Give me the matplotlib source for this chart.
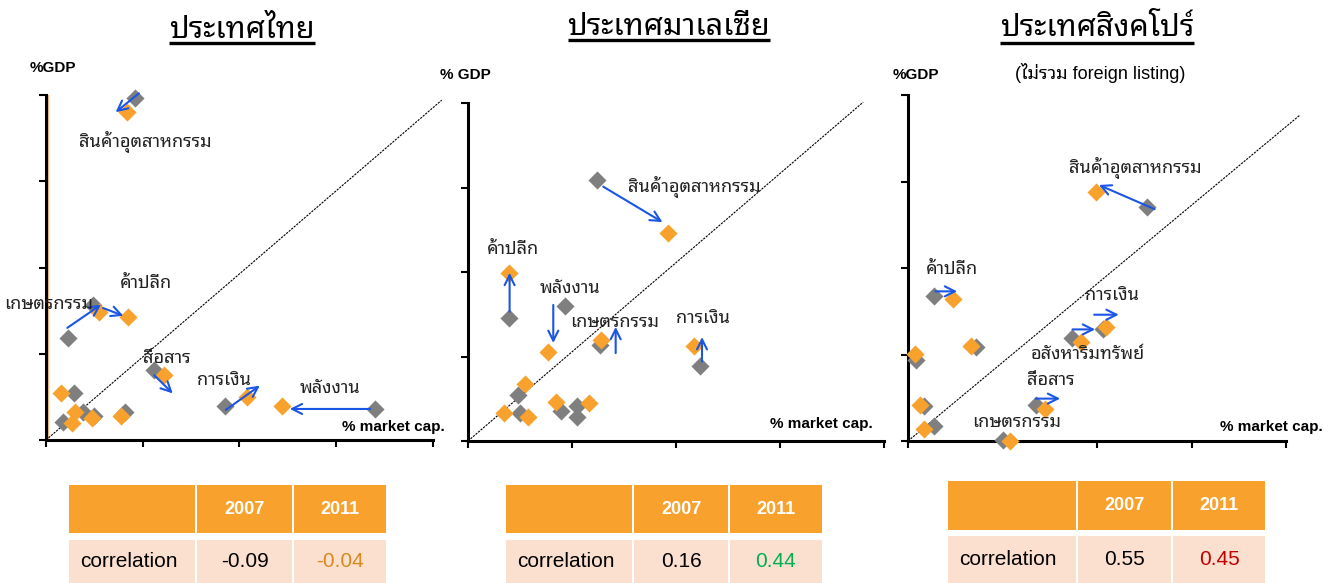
import matplotlib
matplotlib.use("Agg")
import matplotlib.pyplot as plt
from matplotlib.patches import Rectangle

plt.rcParams['font.family'] = ['Noto Sans Thai Looped', 'Noto Sans Thai', 'Sarabun', 'DejaVu Sans']
LATIN = ['Liberation Sans', 'Noto Sans Thai Looped', 'Noto Sans Thai', 'DejaVu Sans']
NARROW = ['Liberation Sans Narrow', 'Liberation Sans']

W, H = 1337, 583
ORANGE = '#F8A12C'
GRAY = '#7F7F7F'
BLUE = '#1A55E6'

# ---- ไทย ----
th_title = 'ประเทศไทย'
th_x07 = [0.92, 0.49, 0.23, 1.12, 0.29, 1.85, 3.40, 0.18, 0.38, 0.50, 0.82]
th_y07 = [3.96, 1.57, 1.18, 0.81, 0.54, 0.39, 0.36, 0.21, 0.32, 0.28, 0.32]
th_x11 = [0.84, 0.55, 0.85, 1.22, 0.16, 2.08, 2.44, 0.27, 0.30, 0.48, 0.78]
th_y11 = [3.80, 1.48, 1.43, 0.75, 0.54, 0.50, 0.40, 0.20, 0.32, 0.25, 0.28]
th_arrows = [(0.96, 4.02, 0.72, 3.80), (0.22, 1.30, 0.57, 1.57), (0.59, 1.53, 0.80, 1.44),
             (1.12, 0.75, 1.31, 0.54), (1.86, 0.35, 2.21, 0.63), (3.35, 0.36, 2.52, 0.36)]
th_labels = ['สินค้าอุตสาหกรรม', 'ค้าปลีก', 'เกษตรกรรม', 'สื่อสาร', 'การเงิน', 'พลังงาน']
th_lx = [1.03, 1.03, 0.03, 1.25, 1.84, 2.94]
th_ly = [3.46, 1.82, 1.58, 0.95, 0.69, 0.60]

# ---- มาเลเซีย ----
my_title = 'ประเทศมาเลเซีย'
my_x07 = [1.24, 0.39, 0.93, 1.27, 2.23, 0.48, 0.50, 0.89, 1.05, 1.05]
my_y07 = [3.09, 1.46, 1.60, 1.14, 0.89, 0.54, 0.33, 0.35, 0.41, 0.28]
my_x11 = [1.92, 0.39, 0.77, 1.28, 2.17, 0.55, 0.35, 0.58, 0.85, 1.16]
my_y11 = [2.46, 1.99, 1.05, 1.20, 1.13, 0.67, 0.33, 0.28, 0.46, 0.45]
my_arrows = [(1.30, 3.01, 1.87, 2.59), (0.40, 1.53, 0.40, 1.99), (0.82, 1.61, 0.82, 1.16),
             (1.42, 1.04, 1.42, 1.35), (2.25, 0.94, 2.25, 1.23)]
my_labels = ['สินค้าอุตสาหกรรม', 'ค้าปลีก', 'พลังงาน', 'เกษตรกรรม', 'การเงิน']
my_lx = [2.18, 0.43, 0.98, 1.41, 2.26]
my_ly = [3.01, 2.27, 1.81, 1.41, 1.45]

# ---- สิงคโปร์ ----
sg_title = 'ประเทศสิงคโปร์'
sg_x07 = [2.53, 0.27, 0.72, 0.08, 1.74, 2.06, 1.35, 0.17, 0.28, 1.00]
sg_y07 = [2.71, 1.68, 1.09, 0.94, 1.19, 1.30, 0.42, 0.40, 0.17, 0.01]
sg_x11 = [1.99, 0.48, 0.67, 0.07, 1.83, 2.10, 1.45, 0.13, 0.17, 1.08]
sg_y11 = [2.88, 1.64, 1.10, 1.01, 1.15, 1.32, 0.37, 0.42, 0.14, 0.00]
sg_arrows = [(2.61, 2.68, 2.02, 2.96), (0.29, 1.73, 0.52, 1.73), (1.74, 1.29, 1.98, 1.29),
             (1.97, 1.46, 2.23, 1.46), (1.35, 0.49, 1.61, 0.49)]
sg_labels = ['สินค้าอุตสาหกรรม', 'ค้าปลีก', 'การเงิน', 'อสังหาริมทรัพย์', 'สื่อสาร', 'เกษตรกรรม']
sg_lx = [2.41, 0.47, 2.16, 1.90, 1.51, 1.15]
sg_ly = [3.16, 1.99, 1.69, 1.01, 0.70, 0.22]

# correlation table
years = ['2007', '2011']
corr07 = [-0.09, 0.16, 0.55]
corr11 = [-0.04, 0.44, 0.45]
corr11_colors = ['#D98A1E', '#00B050', '#C00000']

fig = plt.figure(figsize=(W / 100, H / 100), dpi=100)

# overlay in pixel units for titles, captions and tables
over = fig.add_axes([0, 0, 1, 1], zorder=0)
over.set_xlim(0, W)
over.set_ylim(H, 0)
over.axis('off')


def add_panel(box, x07, y07, x11, y11, arrows, labels, lx, ly, diag_end):
    left, top, right, bottom = box
    ax = fig.add_axes([left / W, 1 - bottom / H, (right - left) / W, (bottom - top) / H], zorder=2)
    ax.patch.set_alpha(0)
    ax.set_xlim(0, 4)
    ax.set_ylim(0, 4)
    ax.set_xticks([0, 1, 2, 3, 4])
    ax.set_yticks([0, 1, 2, 3, 4])
    ax.set_xticklabels([])
    ax.set_yticklabels([])
    ax.tick_params(direction='out', length=5, width=1.5, color='black')
    for s in ['top', 'right']:
        ax.spines[s].set_visible(False)
    for s in ['left', 'bottom']:
        ax.spines[s].set_linewidth(2.2)
    ax.plot([0, diag_end[0]], [0, diag_end[1]], color='black', lw=0.8,
            linestyle=(0, (2, 1)), clip_on=False, zorder=1)
    ax.scatter(x07, y07, marker='D', s=85, color=GRAY, linewidths=0, zorder=3, clip_on=False)
    ax.scatter(x11, y11, marker='D', s=85, color=ORANGE, linewidths=0, zorder=4, clip_on=False)
    for x0, y0, x1, y1 in arrows:
        ax.annotate('', xy=(x1, y1), xytext=(x0, y0),
                    arrowprops=dict(arrowstyle='->', color=BLUE, lw=1.5,
                                    mutation_scale=18, shrinkA=0, shrinkB=0), zorder=5)
    for t, x, y in zip(labels, lx, ly):
        ax.text(x, y, t, ha='center', va='center', fontsize=13, color='#222222', zorder=6)
    return ax


ax1 = add_panel((46, 95, 433, 440), th_x07, th_y07, th_x11, th_y11,
                th_arrows, th_labels, th_lx, th_ly, (4.09, 3.94))
ax1.axvline(0.025, color='#F9B57E', lw=1.6, zorder=0)
add_panel((468, 103, 884, 441), my_x07, my_y07, my_x11, my_y11,
          my_arrows, my_labels, my_lx, my_ly, (3.80, 4.01))
add_panel((908, 95, 1286, 441), sg_x07, sg_y07, sg_x11, sg_y11,
          sg_arrows, sg_labels, sg_lx, sg_ly, (4.15, 3.77))

# titles with underline
fig.canvas.draw()
renderer = fig.canvas.get_renderer()
for title, cx, base, uy in [(th_title, 242, 38, 43), (my_title, 669, 35, 40), (sg_title, 1097, 36, 43)]:
    t = over.text(cx, base, title, ha='center', va='baseline', fontsize=22, fontweight='bold')
    bb = t.get_window_extent(renderer).transformed(over.transData.inverted())
    over.plot([bb.x0, bb.x1], [uy, uy], color='black', lw=2.4, solid_capstyle='butt')

over.text(1100, 73, '(ไม่รวม foreign listing)', ha='center', va='center', fontsize=13, family=LATIN)

for txt, x, y in [('%GDP', 30, 68), ('% GDP', 440, 75), ('%GDP', 893, 75)]:
    over.text(x, y, txt, ha='left', va='center', fontsize=11, fontweight='bold', family=LATIN)
for x, y in [(445, 427), (873, 424), (1323, 427)]:
    over.text(x, y, '% market cap.', ha='right', va='center', fontsize=11,
              fontweight='bold', family=LATIN)

# correlation tables
tables = [([68, 196, 293, 387], (485, 533), (540, 590)),
          ([505, 633, 729, 823], (485, 533), (540, 590)),
          ([947, 1077, 1172, 1266], (481, 530), (536, 590))]
for i, (xs, (h0, h1), (b0, b1)) in enumerate(tables):
    for j in range(3):
        over.add_patch(Rectangle((xs[j] + 1, h0), xs[j + 1] - xs[j] - 2, h1 - h0,
                                 facecolor=ORANGE, edgecolor='none'))
        over.add_patch(Rectangle((xs[j] + 1, b0), xs[j + 1] - xs[j] - 2, b1 - b0,
                                 facecolor='#FBE0D0', edgecolor='none'))
    hy = (h0 + h1) / 2
    by = (b0 + 583) / 2
    for j, yr in enumerate(years):
        over.text((xs[j + 1] + xs[j + 2]) / 2, hy, yr, ha='center', va='center',
                  color='white', fontsize=13, fontweight='bold', family=NARROW)
    over.text(xs[0] + 12, by, 'correlation', ha='left', va='center', fontsize=15, family=NARROW)
    over.text((xs[1] + xs[2]) / 2, by, '%.2f' % corr07[i], ha='center', va='center',
              fontsize=15, family=NARROW)
    over.text((xs[2] + xs[3]) / 2, by, '%.2f' % corr11[i], ha='center', va='center',
              fontsize=15, color=corr11_colors[i], family=NARROW)

fig.savefig('out.png', dpi=100)
